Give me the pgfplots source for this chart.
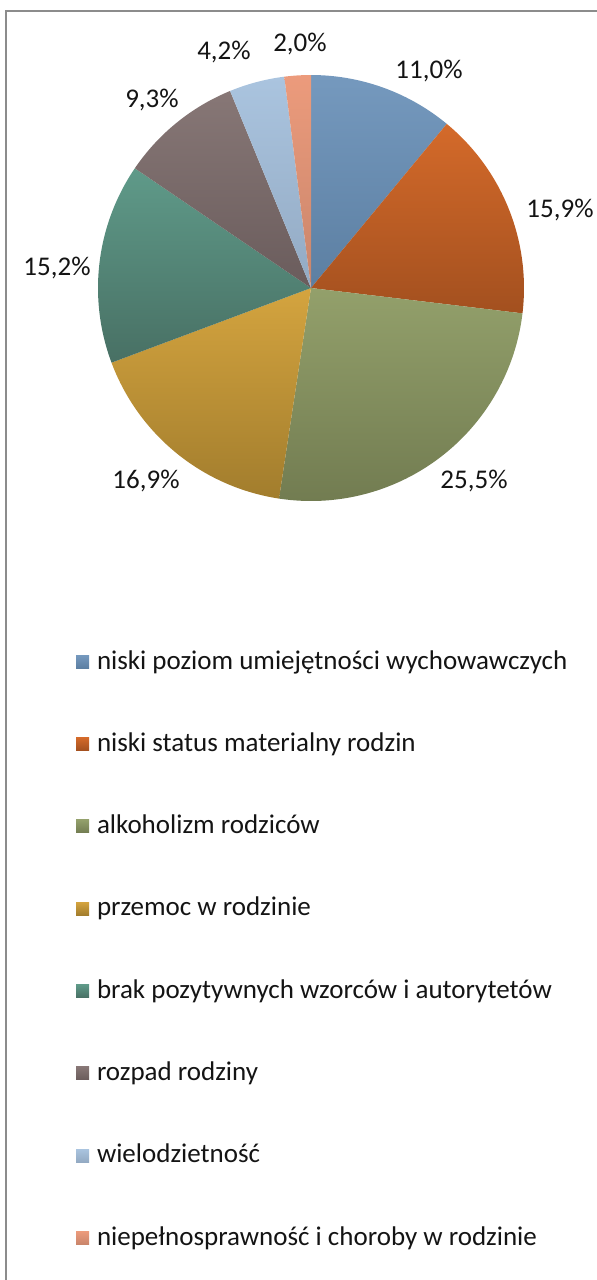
\documentclass[border=0pt]{standalone}
\usepackage{fontspec}
\setmainfont{Carlito}
\usepackage{pgfplots}
\usepackage{pgfplotstable}
\pgfplotsset{compat=1.18}

\definecolor{c1t}{HTML}{7599BE}\definecolor{c1b}{HTML}{5C7FA2}
\definecolor{c2t}{HTML}{D46A2A}\definecolor{c2b}{HTML}{A3501F}
\definecolor{c3t}{HTML}{93A06B}\definecolor{c3b}{HTML}{727C51}
\definecolor{c4t}{HTML}{D4A43F}\definecolor{c4b}{HTML}{A27D2D}
\definecolor{c5t}{HTML}{5F9A89}\definecolor{c5b}{HTML}{487064}
\definecolor{c6t}{HTML}{877776}\definecolor{c6b}{HTML}{6A5C5C}
\definecolor{c7t}{HTML}{AAC4DF}\definecolor{c7b}{HTML}{93AAC3}
\definecolor{c8t}{HTML}{EC9B7C}\definecolor{c8b}{HTML}{C9856B}
\definecolor{framegray}{HTML}{8C8C8C}
\definecolor{txt}{HTML}{141414}

% share of each cause, in percent (clockwise from 12 o'clock)
\pgfplotstableread{
idx value
0 11.0
1 15.9
2 25.5
3 16.9
4 15.2
5 9.3
6 4.2
7 2.0
}\piedata

% cumulative sums of the table values
\pgfmathsetmacro\cA{0}
\pgfplotstablegetelem{0}{value}\of\piedata \pgfmathsetmacro\cB{\cA+\pgfplotsretval}
\pgfplotstablegetelem{1}{value}\of\piedata \pgfmathsetmacro\cC{\cB+\pgfplotsretval}
\pgfplotstablegetelem{2}{value}\of\piedata \pgfmathsetmacro\cD{\cC+\pgfplotsretval}
\pgfplotstablegetelem{3}{value}\of\piedata \pgfmathsetmacro\cE{\cD+\pgfplotsretval}
\pgfplotstablegetelem{4}{value}\of\piedata \pgfmathsetmacro\cF{\cE+\pgfplotsretval}
\pgfplotstablegetelem{5}{value}\of\piedata \pgfmathsetmacro\cG{\cF+\pgfplotsretval}
\pgfplotstablegetelem{6}{value}\of\piedata \pgfmathsetmacro\cH{\cG+\pgfplotsretval}
\pgfplotstablegetelem{7}{value}\of\piedata \pgfmathsetmacro\cI{\cH+\pgfplotsretval}

\begin{document}
\begin{tikzpicture}[font=\fontsize{13.5}{16}\selectfont, text=txt]
\begin{axis}[
  at={(0,0)}, anchor=south west,
  width=298pt, height=640pt, scale only axis,
  xmin=0, xmax=596, ymin=0, ymax=1280, y dir=reverse,
  hide axis, clip=false,
  samples=90,
  slice/.style={draw=none},
  legend cell align=left,
  legend image code/.code={\draw[#1, draw=none] (0pt,-2.6pt) rectangle (6.5pt,3.9pt);},
  legend style={at={(axis cs:76,650)}, anchor=north west, draw=none, fill=none,
    inner sep=0pt, outer sep=0pt, row sep=28.15pt, column sep=4pt,
    font=\fontsize{13.5}{16}\selectfont,
    nodes={inner sep=0pt, text height=9.5pt, text depth=3.5pt}},
]
\draw[framegray, line width=1.2pt] (axis cs:6,11) rectangle (axis cs:620,1300);

\addplot[slice, top color=c1t, bottom color=c1b, domain=\cA*3.6:\cB*3.6] ({311+213*sin(x)},{288-213*cos(x)}) -- (axis cs:311,288) -- cycle;
\addlegendentry{niski poziom umiejętności wychowawczych}
\addplot[slice, top color=c2t, bottom color=c2b, domain=\cB*3.6:\cC*3.6] ({311+213*sin(x)},{288-213*cos(x)}) -- (axis cs:311,288) -- cycle;
\addlegendentry{niski status materialny rodzin}
\addplot[slice, top color=c3t, bottom color=c3b, domain=\cC*3.6:\cD*3.6] ({311+213*sin(x)},{288-213*cos(x)}) -- (axis cs:311,288) -- cycle;
\addlegendentry{alkoholizm rodziców}
\addplot[slice, top color=c4t, bottom color=c4b, domain=\cD*3.6:\cE*3.6] ({311+213*sin(x)},{288-213*cos(x)}) -- (axis cs:311,288) -- cycle;
\addlegendentry{przemoc w rodzinie}
\addplot[slice, top color=c5t, bottom color=c5b, domain=\cE*3.6:\cF*3.6] ({311+213*sin(x)},{288-213*cos(x)}) -- (axis cs:311,288) -- cycle;
\addlegendentry{brak pozytywnych wzorców i autorytetów}
\addplot[slice, top color=c6t, bottom color=c6b, domain=\cF*3.6:\cG*3.6] ({311+213*sin(x)},{288-213*cos(x)}) -- (axis cs:311,288) -- cycle;
\addlegendentry{rozpad rodziny}
\addplot[slice, top color=c7t, bottom color=c7b, domain=\cG*3.6:\cH*3.6] ({311+213*sin(x)},{288-213*cos(x)}) -- (axis cs:311,288) -- cycle;
\addlegendentry{wielodzietność}
\addplot[slice, top color=c8t, bottom color=c8b, domain=\cH*3.6:\cI*3.6] ({311+213*sin(x)},{288-213*cos(x)}) -- (axis cs:311,288) -- cycle;
\addlegendentry{niepełnosprawność i choroby w rodzinie}

\node at (axis cs:429,71) {11,0\%};
\node at (axis cs:560,210) {15,9\%};
\node at (axis cs:474,481) {25,5\%};
\node at (axis cs:146,481) {16,9\%};
\node at (axis cs:57,268) {15,2\%};
\node at (axis cs:152,100) {9,3\%};
\node at (axis cs:224,52) {4,2\%};
\node at (axis cs:300,44) {2,0\%};
\end{axis}
\pgfresetboundingbox
\path (0,0) rectangle (298pt,640pt);
\end{tikzpicture}
\end{document}
